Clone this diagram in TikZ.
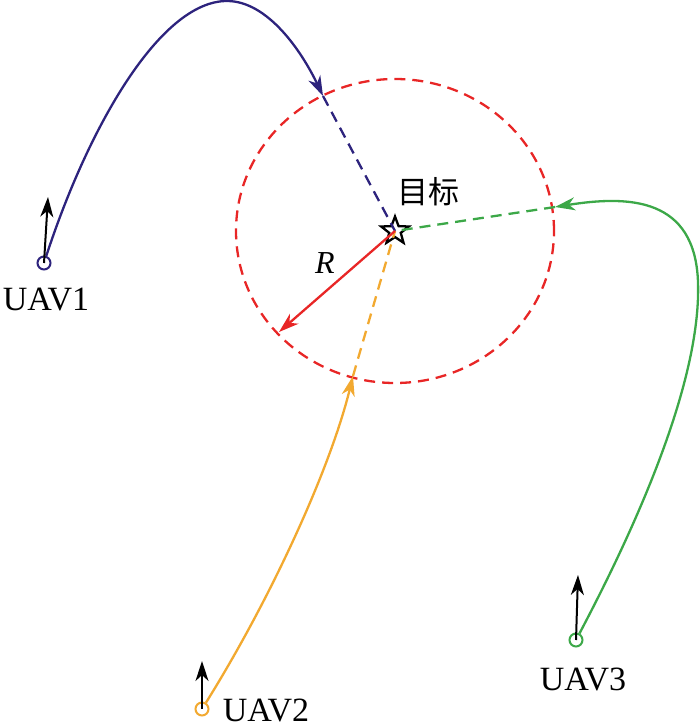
\documentclass[tikz,border=0pt]{standalone}
\usepackage{fontspec}
\setmainfont{Liberation Serif}
\newfontfamily\cjk{Noto Sans CJK SC}
\usetikzlibrary{arrows.meta,shapes.geometric}
\definecolor{navy}{RGB}{45,35,125}
\definecolor{amber}{RGB}{242,169,48}
\definecolor{leaf}{RGB}{60,168,72}
\definecolor{tred}{RGB}{232,38,38}
\begin{document}
\begin{tikzpicture}
  [x=1pt,y=-1pt,line width=2.3pt,
   tip/.style={-{Stealth[length=20pt,width=13pt,inset=6pt]}},
   track/.style={dash pattern=on 11pt off 7pt},
   uav/.style={circle,draw,line width=2pt,minimum size=13pt,inner sep=0pt},
   lbl/.style={font=\fontsize{34}{34}\selectfont,anchor=base}]
  \useasboundingbox (0,0) rectangle (700,727);
  \node[star,star points=5,star point ratio=2.4,draw,line width=2.3pt,minimum size=29pt,inner sep=0pt] (goal) at (395,231) {};
  \node[uav,draw=navy] (u1) at (44,263) {};
  \node[uav,draw=amber] (u2) at (202,709) {};
  \node[uav,draw=leaf] (u3) at (576,640) {};
  \node[lbl] (l1) at (46,310) {UAV1};
  \node[lbl] (l2) at (266,721) {UAV2};
  \node[lbl] (l3) at (583,690) {UAV3};
  \node[font=\fontsize{32}{32}\selectfont\itshape] (r) at (325,263) {R};
  \node[font=\cjk\fontsize{31}{31}\selectfont] (name) at (428,192) {目标};

  \coordinate (h1) at (48,197);
  \coordinate (h2) at (202,661);
  \coordinate (h3) at (578,575);
  \coordinate (c1) at (323,96);
  \coordinate (c2) at (353,376);
  \coordinate (c3) at (555,207);
  \coordinate (rim) at (279,332);
  \coordinate (top1) at (227,1);
  \coordinate (side3) at (698,282);

  % zone
  \draw[tred,track] (goal.center) ellipse [x radius=159pt,y radius=152pt];

  % flight paths
  \draw[navy,tip] (u1) .. controls (88,128) and (160,1) .. (top1) .. controls (268,1) and (302,52) .. (c1);
  \draw[navy,track] (c1) -- (goal.center);
  \draw[amber,tip] (u2) .. controls (270,600) and (330,470) .. (c2);
  \draw[amber,track] (c2) -- (goal.center);
  \draw[leaf,tip] (u3) .. controls (650,500) and (701,370) .. (side3) .. controls (695,198) and (630,195) .. (c3);
  \draw[leaf,track] (c3) -- (goal.center);
  \draw[tred,tip] (goal.center) -- (rim);

  \path [draw,line width=2pt]
  (u1.center) edge[tip] (h1)
  (u2.center) edge[tip] (h2)
  (u3.center) edge[tip] (h3)
  ;
\end{tikzpicture}
\end{document}
